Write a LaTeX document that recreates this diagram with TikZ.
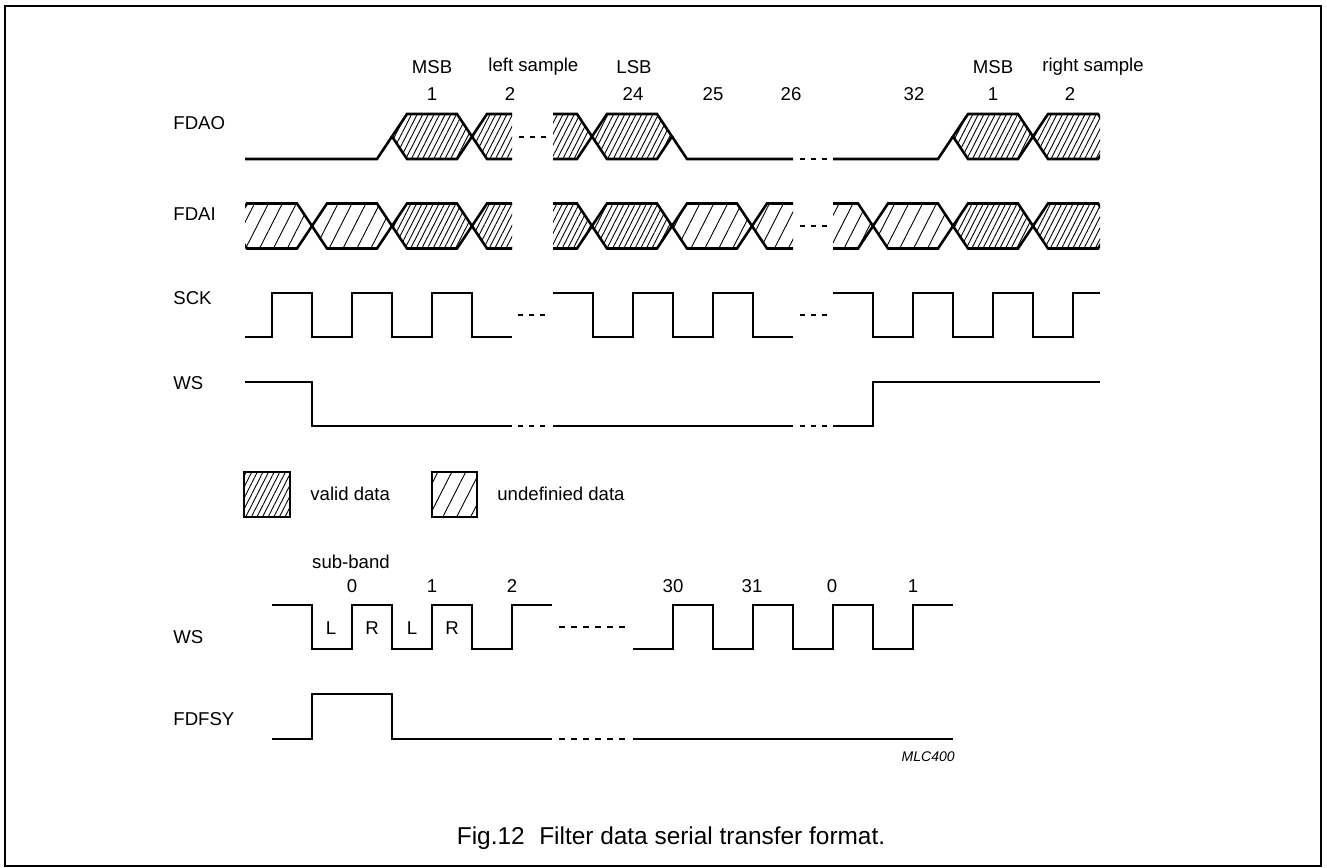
\documentclass[tikz,border=0pt]{standalone}
\usepackage{fontspec}
\setmainfont{Liberation Sans}
\usepackage{tikz}
\usetikzlibrary{patterns.meta}

% one data bit: left tip, right tip, row centre, fill
\newcommand{\bitcell}[4]{%
  \draw[signal, #4] (#1,#3) -- ({#1+15},{#3-22.5}) -- ({#2-15},{#3-22.5}) -- (#2,#3)
    -- ({#2-15},{#3+22.5}) -- ({#1+15},{#3+22.5}) -- cycle;}

\begin{document}
\begin{tikzpicture}[
    x=0.5pt, y=-0.5pt,
    signal/.style={line width=1.3pt},
    gap/.style={line width=1.3pt, dash pattern=on 2.5pt off 3pt},
    longgap/.style={line width=1.3pt, dash pattern=on 3pt off 3pt},
    valid/.style={pattern={Lines[angle=63,distance=2.5pt,line width=0.45pt]}},
    undef/.style={pattern={Lines[angle=63,distance=6.2pt,line width=0.45pt]}},
    lbl/.style={font=\fontsize{9.3}{11}\selectfont, inner sep=0pt},
    rowlbl/.style={lbl, anchor=west}
]
    \useasboundingbox (0,0) rectangle (1327,867);
    \draw[line width=0.75pt] (5,6) rectangle (1321,866);

    % row names
    \node[rowlbl] (nFDAO) at (173,123) {FDAO};
    \node[rowlbl] (nFDAI) at (173,214) {FDAI};
    \node[rowlbl] (nSCK) at (173,298) {SCK};
    \node[rowlbl] (nWS) at (173,383) {WS};
    \node[rowlbl] (nWSsub) at (173,637) {WS};
    \node[rowlbl] (nFDFSY) at (173,719) {FDFSY};

    % bit numbers
    \node[lbl] (msbL) at (432,67) {MSB};
    \node[lbl, anchor=west] (leftsmp) at (488,67) {left sample};
    \node[lbl] (lsb) at (634,67) {LSB};
    \node[lbl] (msbR) at (993,67) {MSB};
    \node[lbl, anchor=west] (rightsmp) at (1042,67) {right sample};
    \node[lbl] (bA1) at (432,94) {1};
    \node[lbl] (bA2) at (510,94) {2};
    \node[lbl] (b24) at (633,94) {24};
    \node[lbl] (b25) at (713,94) {25};
    \node[lbl] (b26) at (791,94) {26};
    \node[lbl] (b32) at (914,94) {32};
    \node[lbl] (bB1) at (993,94) {1};
    \node[lbl] (bB2) at (1070,94) {2};

    % FDAO
    \begin{scope}
        \clip (245,100) rectangle (512,175);
        \draw[signal] (245,159) -- (377,159) -- (392,136.5);
        \bitcell{392}{472}{136.5}{valid}
        \bitcell{472}{552}{136.5}{valid}
    \end{scope}
    \begin{scope}
        \clip (553,100) rectangle (793,175);
        \bitcell{512}{592}{136.5}{valid}
        \bitcell{592}{672}{136.5}{valid}
        \draw[signal] (672,136.5) -- (687,159) -- (793,159);
    \end{scope}
    \begin{scope}
        \clip (833,100) rectangle (1100,175);
        \draw[signal] (833,159) -- (938,159) -- (953,136.5);
        \bitcell{953}{1033}{136.5}{valid}
        \bitcell{1033}{1113}{136.5}{valid}
    \end{scope}
    \draw[gap] (519,137) -- (547,137);
    \draw[gap] (800,159) -- (828,159);

    % FDAI
    \begin{scope}
        \clip (245,190) rectangle (512,265);
        \bitcell{232}{312}{226}{undef}
        \bitcell{312}{392}{226}{undef}
        \bitcell{392}{472}{226}{valid}
        \bitcell{472}{552}{226}{valid}
    \end{scope}
    \begin{scope}
        \clip (553,190) rectangle (793,265);
        \bitcell{512}{592}{226}{valid}
        \bitcell{592}{672}{226}{valid}
        \bitcell{672}{752}{226}{undef}
        \bitcell{752}{832}{226}{undef}
    \end{scope}
    \begin{scope}
        \clip (833,190) rectangle (1100,265);
        \bitcell{793}{873}{226}{undef}
        \bitcell{873}{953}{226}{undef}
        \bitcell{953}{1033}{226}{valid}
        \bitcell{1033}{1113}{226}{valid}
    \end{scope}
    \draw[gap] (800,226) -- (828,226);

    % SCK
    \draw[signal] (245,337) -| (272,293) -| (312,337) -| (352,293) -| (392,337)
        -| (432,293) -| (472,337) -- (512,337);
    \draw[signal] (553,293) -| (593,337) -| (633,293) -| (673,337) -| (713,293)
        -| (753,337) -- (793,337);
    \draw[signal] (833,293) -| (873,337) -| (913,293) -| (953,337) -| (993,293)
        -| (1033,337) -| (1073,293) -- (1100,293);
    \draw[gap] (518,315) -- (546,315);
    \draw[gap] (800,315) -- (828,315);

    % WS
    \draw[signal] (245,382) -| (312,426) -- (512,426);
    \draw[signal] (553,426) -- (793,426);
    \draw[signal] (833,426) -| (873,382) -- (1100,382);
    \draw[gap] (518,426) -- (546,426);
    \draw[gap] (800,426) -- (828,426);

    % legend
    \draw[line width=0.75pt, valid] (244,472) rectangle (290,517);
    \node[lbl, anchor=west] (keyvalid) at (310,494) {valid data};
    \draw[line width=0.75pt, undef] (432,472) rectangle (477,517);
    \node[lbl, anchor=west] (keyundef) at (497,494) {undefinied data};

    % sub-band WS and FDFSY
    \node[lbl] (subband) at (351,562) {sub-band};
    \node[lbl] (sb0) at (352,586) {0};
    \node[lbl] (sb1) at (432,586) {1};
    \node[lbl] (sb2) at (512,586) {2};
    \node[lbl] (sb30) at (673,586) {30};
    \node[lbl] (sb31) at (752,586) {31};
    \node[lbl] (sbB0) at (832,586) {0};
    \node[lbl] (sbB1) at (913,586) {1};
    \node[lbl] (chL1) at (331,628) {L};
    \node[lbl] (chR1) at (372,628) {R};
    \node[lbl] (chL2) at (412,628) {L};
    \node[lbl] (chR2) at (452,628) {R};

    \draw[signal] (272,605) -| (312,649) -| (352,605) -| (392,649) -| (432,605)
        -| (472,649) -| (512,605) -- (552,605);
    \draw[signal] (633,649) -| (673,605) -| (713,649) -| (753,605) -| (793,649)
        -| (833,605) -| (873,649) -| (913,605) -- (953,605);
    \draw[longgap] (559,627) -- (627,627);

    \draw[signal] (272,739) -| (312,694) -| (392,739) -- (552,739);
    \draw[signal] (633,739) -- (953,739);
    \draw[longgap] (559,739) -- (627,739);

    \node[lbl, anchor=east, font=\fontsize{7}{8}\selectfont\itshape] (code) at (955,757) {MLC400};

    \node[font=\fontsize{12.2}{14}\selectfont, inner sep=0pt] (caption) at (671,838)
        {Fig.12\hspace{0.6em}Filter data serial transfer format.};
\end{tikzpicture}
\end{document}
